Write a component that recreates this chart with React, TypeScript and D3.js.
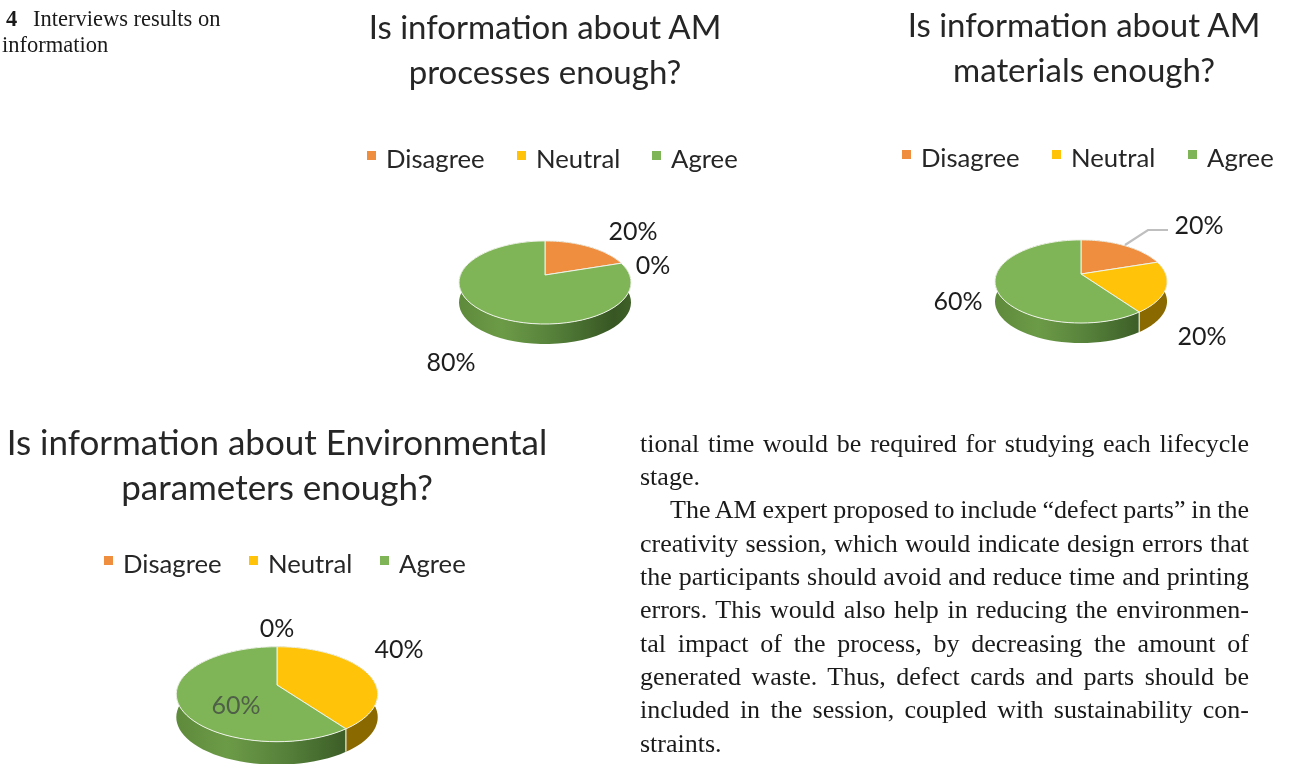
import React, { useLayoutEffect, useRef } from "react";
import * as d3 from "d3";

const W = 1290;
const H = 764;
const sentiments = ["Disagree", "Neutral", "Agree"];
const sentimentColors = ["#EF8E3F", "#FFC409", "#7FB557"];
const wallColors = ["#8a4a1a", "#8a6900", "#5f8f3c"];

const questionTitles = [
  ["Is information about AM", "processes enough?"],
  ["Is information about AM", "materials enough?"],
  ["Is information about Environmental", "parameters enough?"],
];
const processValues = [20, 0, 80];
const materialValues = [20, 20, 60];
const environmentValues = [0, 40, 60];

const captionLines = ["Interviews results on", "information"];
const paragraphLines = [
  { t: "tional time would be required for studying each lifecycle", j: true, x: 640 },
  { t: "stage.", j: false, x: 640 },
  { t: "The AM expert proposed to include “defect parts” in the", j: true, x: 670 },
  { t: "creativity session, which would indicate design errors that", j: true, x: 640 },
  { t: "the participants should avoid and reduce time and printing", j: true, x: 640 },
  { t: "errors. This would also help in reducing the environmen-", j: true, x: 640 },
  { t: "tal impact of the process, by decreasing the amount of", j: true, x: 640 },
  { t: "generated waste. Thus, defect cards and parts should be", j: true, x: 640 },
  { t: "included in the session, coupled with sustainability con-", j: true, x: 640 },
  { t: "straints.", j: false, x: 640 },
];
const paragraphY = [452, 485, 518, 552, 585, 618, 652, 685, 718, 752];

const chartFont = "Lato, 'Open Sans', sans-serif";

type Lab = { text: string; x: number; y: number; fill?: string };
type Spec = {
  id: string;
  values: number[];
  title: string[];
  titleX: number;
  titleY: number[];
  titleSize: number;
  legendX: number[];
  legendY: number;
  legendSize: number;
  cx: number;
  cy: number;
  a: number;
  b: number;
  p: number;
  depth: number;
  labels: Lab[];
  leader?: [number, number][];
};

const specs: Spec[] = [
  {
    id: "p", values: processValues, title: questionTitles[0], titleX: 545, titleY: [39, 84], titleSize: 33,
    legendX: [367, 517, 652], legendY: 168, legendSize: 25.7,
    cx: 545, cy: 275, a: 84.6, b: 40.2, p: 0.18, depth: 20,
    labels: [
      { text: "20%", x: 633, y: 240 },
      { text: "0%", x: 653, y: 274 },
      { text: "80%", x: 451, y: 371 },
    ],
  },
  {
    id: "m", values: materialValues, title: questionTitles[1], titleX: 1084, titleY: [37, 82], titleSize: 33,
    legendX: [902, 1052, 1188], legendY: 167, legendSize: 25.7,
    cx: 1081, cy: 274, a: 84.6, b: 40.2, p: 0.18, depth: 20,
    labels: [
      { text: "20%", x: 1199, y: 234 },
      { text: "20%", x: 1202, y: 345 },
      { text: "60%", x: 958, y: 310 },
    ],
    leader: [[1125, 245], [1148, 230], [1168, 230]],
  },
  {
    id: "e", values: environmentValues, title: questionTitles[2], titleX: 277, titleY: [455, 500], titleSize: 35,
    legendX: [104, 249, 380], legendY: 573, legendSize: 25.7,
    cx: 277, cy: 685, a: 98.8, b: 45.7, p: 0.194, depth: 23,
    labels: [
      { text: "0%", x: 277, y: 637 },
      { text: "40%", x: 399, y: 658 },
      { text: "60%", x: 236, y: 714, fill: "#4f5f48" },
    ],
  },
];

function Pie3D({ s }: { s: Spec }) {
  const arcs = d3.pie<number>().sort(null).value((d) => d)(s.values);
  const project = (theta: number, drop = 0): [number, number] => {
    const u = Math.sin(theta);
    const w = Math.cos(theta);
    const den = 1 + s.p * w;
    return [s.cx + (s.a * u) / den, s.cy - (s.b * w) / den + drop];
  };
  const line = d3.line();
  const sample = (a0: number, a1: number, drop = 0) =>
    d3.range(0, 61).map((i) => project(a0 + ((a1 - a0) * i) / 60, drop));
  const live = arcs
    .map((d, i) => ({ d, i }))
    .filter(({ d }) => d.endAngle - d.startAngle > 0);
  const left = s.cx - s.a * 1.02;
  const right = s.cx + s.a * 1.02;
  return (
    <g>
      <defs>
        <linearGradient id={`wall-${s.id}`} gradientUnits="userSpaceOnUse" x1={left} x2={right} y1={0} y2={0}>
          <stop offset="0" stopColor="#5e8a3b" />
          <stop offset="0.25" stopColor="#6c9b47" />
          <stop offset="0.55" stopColor="#55803a" />
          <stop offset="0.9" stopColor="#375623" />
          <stop offset="1" stopColor="#3f6128" />
        </linearGradient>
      </defs>
      {live.map(({ d, i }) => {
        const top = sample(d.startAngle, d.endAngle);
        const bottom = sample(d.startAngle, d.endAngle, s.depth).reverse();
        return (
          <path
            key={`w${i}`}
            d={line([...top, ...bottom]) + "Z"}
            fill={i === 2 ? `url(#wall-${s.id})` : wallColors[i]}
          />
        );
      })}
      {live.map(({ d, i }) => (
        <path
          key={`e${i}`}
          d={line([project(d.startAngle), project(d.startAngle, s.depth)]) as string}
          stroke="#e6ebe0"
          strokeWidth={d.startAngle > Math.PI / 2 && d.startAngle < (3 * Math.PI) / 2 ? 1.2 : 0}
          fill="none"
        />
      ))}
      {live.map(({ d, i }) => (
        <path
          key={`t${i}`}
          d={line([[s.cx, s.cy], ...sample(d.startAngle, d.endAngle)]) + "Z"}
          fill={sentimentColors[i]}
          stroke="#eef2e8"
          strokeWidth={1}
          strokeLinejoin="round"
        />
      ))}
      {s.leader && <path d={line(s.leader) as string} fill="none" stroke="#bfbfbf" strokeWidth={2.2} />}
      {s.labels.map((l, i) => (
        <text key={i} x={l.x} y={l.y} fontSize={25} textAnchor="middle" fill={l.fill ?? "#1d1d1d"} fontFamily={chartFont}>
          {l.text}
        </text>
      ))}
    </g>
  );
}

function Head({ s }: { s: Spec }) {
  return (
    <g fontFamily={chartFont}>
      {s.title.map((t, i) => (
        <text key={i} x={s.titleX} y={s.titleY[i]} fontSize={s.titleSize} textAnchor="middle" fill="#262626">
          {t}
        </text>
      ))}
      {sentiments.map((n, i) => (
        <g key={n}>
          <rect x={s.legendX[i]} y={s.legendY - 17} width={9} height={9} fill={sentimentColors[i]} />
          <text x={s.legendX[i] + 19} y={s.legendY} fontSize={s.legendSize} fill="#262626">
            {n}
          </text>
        </g>
      ))}
    </g>
  );
}

export default function App() {
  const ref = useRef<SVGSVGElement>(null);
  useLayoutEffect(() => {
    const sel = d3.select(ref.current).selectAll<SVGTextElement, unknown>("text.just");
    sel.each(function () {
      const el = this;
      el.style.wordSpacing = "0px";
      const len = el.getComputedTextLength();
      const n = (el.textContent || "").split(" ").length - 1;
      const target = 1249 - Number(el.getAttribute("x"));
      el.style.wordSpacing = `${(target - len) / n}px`;
    });
  }, []);
  return (
    <svg
      ref={ref}
      width={W}
      height={H}
      viewBox={`0 0 ${W} ${H}`}
      style={{ position: "fixed", left: 0, top: 0, background: "#fff", display: "block", filter: "blur(0.45px)" }}
    >
      <g fontFamily="'Liberation Serif', serif" fontSize={22.5} fill="#1a1a1a">
        <text x={6} y={26} fontWeight="bold">4</text>
        <text x={33} y={26}>{captionLines[0]}</text>
        <text x={2} y={52}>{captionLines[1]}</text>
      </g>
      {specs.map((s) => (
        <g key={s.id}>
          <Head s={s} />
          <Pie3D s={s} />
        </g>
      ))}
      <g fontFamily="'Liberation Serif', serif" fontSize={26} fill="#1a1a1a">
        {paragraphLines.map((l, i) => (
          <text key={i} x={l.x} y={paragraphY[i]} className={l.j ? "just" : undefined}>
            {l.t}
          </text>
        ))}
      </g>
    </svg>
  );
}
